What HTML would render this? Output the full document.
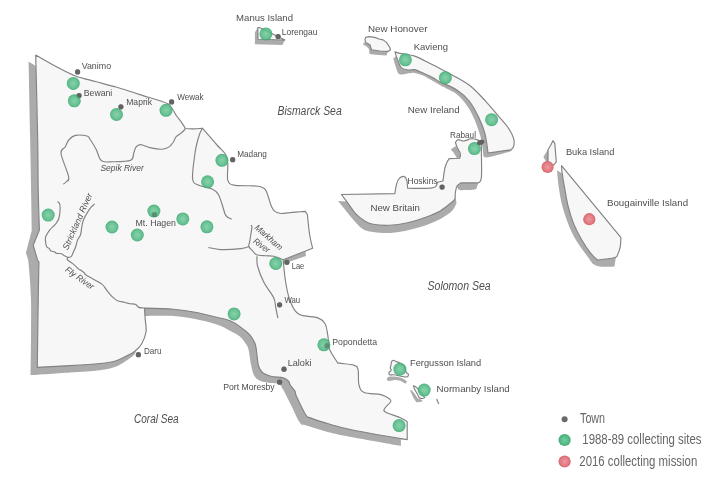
<!DOCTYPE html>
<html><head><meta charset="utf-8"><style>
html,body{margin:0;padding:0;background:#fff;width:716px;height:484px;overflow:hidden}
svg{display:block;will-change:transform}
text{font-family:"Liberation Sans",sans-serif}
</style></head><body>
<svg width="716" height="484" viewBox="0 0 716 484">
<defs><radialGradient id="g" cx="50%" cy="50%" r="50%"><stop offset="0" stop-color="#78cda1"/><stop offset="0.7" stop-color="#55ba86"/><stop offset="1" stop-color="#3aa970"/></radialGradient><radialGradient id="r" cx="50%" cy="50%" r="50%"><stop offset="0" stop-color="#ec9aa0"/><stop offset="0.75" stop-color="#e07780"/><stop offset="1" stop-color="#d6636d"/></radialGradient></defs>
<path d="M35.7,66.0 C35.7,66.0 28.6,61.5 28.6,61.5 C28.6,61.5 29.6,111.9 30.2,140.0 C30.8,168.1 31.9,230.0 31.9,230.0 C31.9,230.0 26.0,252.9 26.0,252.9 C26.0,252.9 28.2,260.0 28.2,260.0 C28.2,260.0 30.6,280.8 31.0,300.0 C31.4,319.2 30.6,375.2 30.6,375.2 C30.6,375.2 58.4,373.3 70.0,372.5 C81.6,371.7 92.4,371.2 100.0,370.2 C107.6,369.2 111.2,368.2 115.5,366.7 C119.8,365.2 122.7,363.0 125.8,361.0 C128.9,359.0 132.4,356.5 134.1,354.8 C135.8,353.1 136.0,351.0 136.0,351.0 C136.0,351.0 139.6,347.7 141.3,344.5 C143.0,341.3 145.3,336.3 146.0,332.0 C146.7,327.7 145.4,321.6 145.2,318.9 C144.9,316.2 144.5,316.0 144.5,316.0 C144.5,316.0 165.0,315.5 173.4,316.0 C181.8,316.5 187.9,317.6 195.1,319.0 C202.3,320.4 211.0,322.6 216.8,324.5 C222.6,326.4 226.2,328.7 230.0,330.7 C233.8,332.7 237.2,334.1 239.9,336.5 C242.7,338.9 245.1,342.6 246.5,344.8 C247.9,347.1 247.8,346.6 248.6,350.0 C249.4,353.4 250.2,361.2 251.2,365.5 C252.1,369.8 252.8,373.2 254.3,375.8 C255.9,378.4 257.8,379.8 260.5,381.0 C263.2,382.2 267.7,382.6 270.8,383.1 C273.9,383.6 277.2,383.2 279.1,384.1 C281.0,385.0 281.4,387.0 282.2,388.2 C283.0,389.4 282.6,388.3 284.1,391.2 C285.6,394.1 288.8,400.5 291.4,405.7 C294.0,410.9 297.2,418.9 299.6,422.2 C302.0,425.5 300.7,423.6 305.8,425.3 C310.9,427.0 322.0,430.5 330.0,432.5 C338.0,434.5 342.0,435.3 353.8,437.5 C365.6,439.7 400.9,445.9 400.9,445.9 C400.9,445.9 400.9,439.6 400.9,439.6 C400.9,439.6 407.2,439.6 407.2,439.6 C407.2,439.6 390.0,425.0 390.0,425.0 C390.0,425.0 340.0,400.0 340.0,400.0 C340.0,400.0 300.0,360.0 300.0,360.0 C300.0,360.0 250.0,300.0 250.0,300.0 C250.0,300.0 100.0,200.0 100.0,200.0 C100.0,200.0 35.7,66.0 35.7,66.0 Z" fill="#ababab"/>
<path d="M345.5,201.4 C345.5,201.4 338.2,201.0 338.2,201.0 C338.2,201.0 342.0,205.8 344.4,208.8 C346.8,211.8 349.8,215.8 352.7,219.1 C355.6,222.4 358.6,226.2 362.0,228.4 C365.4,230.6 368.1,231.3 373.3,232.0 C378.5,232.7 385.8,233.5 393.0,232.8 C400.2,232.2 409.4,230.1 416.7,228.1 C424.0,226.1 430.9,223.5 436.7,220.8 C442.4,218.1 447.9,214.8 451.2,211.8 C454.5,208.8 456.6,202.7 456.6,202.7 C456.6,202.7 455.0,196.0 455.0,196.0 C455.0,196.0 455.4,197.9 454.8,199.0 C454.2,200.1 453.6,200.7 451.2,202.7 C448.8,204.7 444.5,208.5 440.3,210.9 C436.1,213.3 431.2,215.2 425.8,217.2 C420.4,219.2 413.7,221.4 407.6,222.7 C401.6,224.0 395.2,224.9 389.5,225.2 C383.8,225.5 377.4,225.0 373.3,224.3 C369.2,223.6 367.9,222.9 365.0,221.2 C362.1,219.5 358.7,217.0 355.8,213.9 C352.9,210.8 349.2,204.7 347.5,202.6 C345.8,200.5 345.5,201.4 345.5,201.4 Z" fill="#ababab"/>
<path d="M450.8,149.5 C450.8,149.5 455.5,146.3 455.5,146.3 C455.5,146.3 458.1,149.1 459.0,151.0 C459.9,152.9 460.6,158.0 460.6,158.0 C460.6,158.0 457.0,158.5 457.0,158.5 C457.0,158.5 454.5,154.0 453.5,152.5 C452.5,151.0 450.8,149.5 450.8,149.5 Z" fill="#ababab"/>
<path d="M444.8,166.0 C444.8,166.0 442.4,182.1 442.4,182.1 C442.4,182.1 443.0,181.0 443.0,181.0 C443.0,181.0 444.8,168.5 444.8,168.5 C444.8,168.5 444.8,166.0 444.8,166.0 Z" fill="#ababab"/>
<path d="M461.0,182.8 C461.0,182.8 478.3,182.8 478.3,182.8 C478.3,182.8 477.7,185.4 477.1,186.5 C476.5,187.6 477.1,189.0 474.6,189.6 C472.1,190.2 464.9,190.2 462.2,190.2 C459.5,190.2 459.3,190.3 458.5,189.6 C457.7,188.9 457.2,185.9 457.2,185.9 C457.2,185.9 461.0,182.8 461.0,182.8 Z" fill="#ababab"/>
<path d="M396.2,55.9 C396.2,55.9 393.3,58.4 393.3,58.4 C393.3,58.4 394.7,63.5 395.5,66.0 C396.3,68.5 397.2,71.9 398.3,73.3 C399.4,74.7 400.6,74.5 402.4,74.5 C404.2,74.5 406.9,73.6 409.0,73.3 C411.1,73.0 412.5,72.5 414.8,72.9 C417.1,73.3 420.1,74.2 423.0,75.5 C425.9,76.8 429.2,78.9 432.1,80.6 C435.1,82.3 436.6,83.3 440.7,85.6 C444.8,87.9 452.5,91.0 457.0,94.5 C461.5,98.0 464.6,102.3 467.5,106.5 C470.4,110.7 472.4,114.6 474.7,119.9 C476.9,125.2 479.5,132.3 481.0,138.5 C482.5,144.7 483.5,156.8 483.5,156.8 C483.5,156.8 485.0,158.0 489.9,157.0 C494.8,156.0 512.6,150.8 512.6,150.8 C512.6,150.8 510.5,149.8 510.5,149.8 C510.5,149.8 488.0,153.0 488.0,153.0 C488.0,153.0 486.5,139.9 485.0,134.0 C483.5,128.1 481.5,123.3 478.9,117.8 C476.3,112.3 472.9,105.6 469.2,101.0 C465.5,96.4 461.6,93.1 456.8,90.0 C452.1,86.9 444.8,84.3 440.7,82.2 C436.6,80.1 435.7,79.1 432.1,77.3 C428.5,75.5 421.9,72.6 418.9,71.3 C415.9,70.0 415.8,69.8 414.0,69.6 C412.2,69.4 410.3,70.3 408.2,70.0 C406.1,69.7 403.1,69.0 401.6,67.9 C400.1,66.8 400.0,65.4 399.1,63.4 C398.2,61.4 396.2,55.9 396.2,55.9 Z" fill="#ababab"/>
<path d="M557.0,170.2 C557.0,170.2 557.9,181.4 558.8,187.3 C559.7,193.2 560.5,199.1 562.2,205.5 C563.9,211.9 566.5,219.8 569.0,225.9 C571.5,232.0 573.8,236.5 577.0,241.8 C580.2,247.1 585.6,253.9 588.4,257.7 C591.2,261.5 591.7,263.0 594.0,264.5 C596.3,266.0 598.6,266.5 602.0,266.8 C605.4,267.1 614.6,266.4 614.6,266.4 C614.6,266.4 615.9,257.1 615.9,257.1 C615.9,257.1 617.1,257.3 614.0,257.8 C610.9,258.3 597.5,260.0 597.5,260.0 C597.5,260.0 593.3,256.6 590.6,253.2 C587.9,249.8 584.3,244.4 581.5,239.5 C578.7,234.6 575.9,229.3 573.6,223.6 C571.3,217.9 569.4,211.6 567.9,205.5 C566.4,199.4 565.5,192.6 564.5,187.3 C563.5,182.0 562.2,173.6 562.2,173.6 C562.2,173.6 557.0,170.2 557.0,170.2 Z" fill="#ababab"/>
<path d="M387.0,378.8 C387.0,378.8 387.5,377.1 389.0,376.8 C390.5,376.5 393.9,376.5 396.2,376.8 C398.5,377.1 401.0,377.7 402.8,378.5 C404.6,379.3 406.8,381.4 406.8,381.4 C406.8,381.4 406.4,383.4 405.5,383.4 C404.6,383.4 403.1,381.9 401.5,381.4 C399.9,380.8 398.0,380.2 396.2,380.1 C394.4,380.0 392.3,380.7 390.9,380.8 C389.5,380.9 388.2,381.1 387.6,380.8 C387.0,380.5 387.0,378.8 387.0,378.8 Z" fill="#ababab"/>
<path d="M410.0,390.4 C410.0,390.4 411.0,389.8 411.8,390.4 C412.6,391.0 413.9,392.8 414.9,394.1 C415.9,395.5 416.9,397.6 418.0,398.5 C419.1,399.4 421.0,399.2 421.7,399.7 C422.4,400.2 422.4,401.6 422.4,401.6 C422.4,401.6 416.8,402.5 416.8,402.5 C416.8,402.5 415.4,401.1 414.3,399.1 C413.2,397.1 410.0,390.4 410.0,390.4 Z" fill="#ababab"/>
<path d="M283.2,259.8 L305.5,251.5 L306.0,256.0 L289.8,261.6 L285.0,263.0 Z" fill="#ababab"/>
<path d="M365.7,42.4 L363.7,42.4 L363.3,44.8 L366.6,46.5 L369.0,49.0 L369.5,53.9 L375.7,54.8 L386.4,55.6 L388.1,51.4 L379.8,51.0 L371.5,49.8 L369.9,44.8 Z" fill="#ababab"/>
<path d="M257.8,27.5 L254.9,32.4 L254.9,44.3 L282.4,44.9 L285.0,40.0 L258.0,39.3 Z" fill="#ababab"/>
<path d="M548.1,149.5 L543.4,156.7 L545.5,160.8 L546.0,166.0 L548.0,163.0 Z" fill="#ababab"/>
<path d="M35.7,55.0 C35.7,55.0 49.4,63.0 56.0,66.5 C62.6,70.0 68.9,73.5 75.5,76.0 C82.1,78.5 88.8,79.7 95.5,81.5 C102.2,83.3 109.4,85.1 116.0,87.0 C122.6,88.9 130.5,91.6 135.0,93.0 C139.5,94.4 138.8,94.3 143.0,95.6 C147.2,96.9 155.8,99.4 160.0,100.8 C164.2,102.2 166.2,102.7 168.3,104.1 C170.4,105.5 171.0,107.1 172.4,109.0 C173.8,110.9 175.0,113.5 176.5,115.7 C178.0,117.9 180.0,120.2 181.5,122.3 C183.0,124.4 185.4,128.5 185.4,128.5 C185.4,128.5 190.2,129.0 193.0,128.9 C195.8,128.8 202.4,128.2 202.4,128.2 C202.4,128.2 213.1,140.6 217.0,145.0 C220.9,149.4 224.0,151.5 225.8,154.8 C227.6,158.1 227.5,160.4 227.8,164.6 C228.1,168.8 226.8,176.8 227.8,180.2 C228.8,183.6 229.9,184.2 233.6,185.1 C237.3,186.0 245.9,185.6 250.0,185.8 C254.1,186.0 256.0,185.8 258.3,186.2 C260.6,186.6 262.6,187.4 264.0,188.3 C265.4,189.2 265.7,189.8 266.5,191.6 C267.3,193.4 268.2,196.5 269.0,199.0 C269.8,201.5 270.5,204.3 271.5,206.4 C272.5,208.5 273.2,210.2 274.8,211.4 C276.4,212.6 278.9,213.3 281.4,213.5 C283.9,213.7 286.0,212.9 290.0,212.6 C294.0,212.2 305.3,211.4 305.3,211.4 C305.3,211.4 307.4,214.5 307.4,214.5 C307.4,214.5 308.8,229.4 309.7,235.0 C310.6,240.6 312.6,248.2 312.6,248.2 C312.6,248.2 283.2,259.8 283.2,259.8 C283.2,259.8 284.6,276.4 285.9,283.5 C287.1,290.6 288.5,297.4 290.7,302.5 C292.9,307.6 294.4,311.7 299.0,314.3 C303.6,316.9 313.6,316.3 318.0,317.9 C322.4,319.5 323.5,321.2 325.1,323.8 C326.7,326.4 326.9,330.1 327.5,333.3 C328.1,336.5 328.3,340.0 328.7,342.8 C329.1,345.6 328.5,346.8 329.9,350.0 C331.3,353.2 335.5,359.6 337.0,361.8 C338.5,364.0 336.3,362.5 339.1,363.1 C341.9,363.7 350.7,364.1 353.8,365.2 C356.9,366.2 357.1,366.1 358.0,369.4 C358.9,372.7 357.9,381.2 359.0,385.1 C360.1,389.0 360.6,390.9 364.3,392.5 C368.0,394.1 376.8,393.6 381.0,394.6 C385.2,395.7 387.8,397.6 389.4,398.8 C391.0,400.0 391.4,400.2 390.5,401.9 C389.6,403.6 384.9,407.4 384.2,409.2 C383.5,410.9 383.7,411.0 386.3,412.4 C388.9,413.8 396.4,416.0 399.9,417.6 C403.4,419.2 407.2,421.8 407.2,421.8 C407.2,421.8 407.2,439.6 407.2,439.6 C407.2,439.6 366.7,432.8 353.8,430.2 C340.9,427.6 337.1,426.3 330.0,424.3 C322.9,422.3 315.0,419.7 311.0,418.1 C307.0,416.6 308.2,418.6 305.8,415.0 C303.4,411.4 298.3,400.3 296.5,396.4 C294.7,392.4 296.0,393.2 295.0,391.3 C294.0,389.4 291.4,386.7 290.3,385.0 C289.2,383.3 289.6,382.2 288.4,381.0 C287.2,379.8 286.1,378.7 283.2,377.9 C280.3,377.1 274.2,377.2 270.8,376.3 C267.4,375.4 264.7,374.5 262.6,372.7 C260.5,370.9 259.4,369.3 258.4,365.5 C257.4,361.7 257.0,353.7 256.4,350.0 C255.8,346.3 255.9,345.6 254.8,343.1 C253.7,340.6 252.3,337.6 249.8,334.8 C247.3,332.1 243.2,328.9 239.9,326.6 C236.6,324.3 233.8,322.4 230.0,320.8 C226.2,319.2 222.6,318.7 216.8,317.3 C211.0,315.9 202.3,313.5 195.1,312.2 C187.9,310.9 181.8,310.0 173.4,309.3 C165.0,308.6 144.5,308.1 144.5,308.1 C144.5,308.1 144.9,314.9 145.2,318.9 C145.4,322.9 146.7,327.7 146.0,332.0 C145.3,336.3 143.3,341.2 141.3,344.5 C139.3,347.8 136.5,349.8 134.1,351.7 C131.7,353.6 130.0,354.2 126.9,355.8 C123.8,357.4 120.0,359.7 115.5,361.0 C111.0,362.3 107.6,362.7 100.0,363.5 C92.4,364.3 80.5,365.0 70.0,365.6 C59.5,366.2 37.3,367.4 37.3,367.4 C37.3,367.4 37.9,317.6 38.2,300.0 C38.5,282.4 38.9,262.0 38.9,262.0 C38.9,262.0 37.5,260.0 37.5,260.0 C37.5,260.0 33.2,245.2 33.2,245.2 C33.2,245.2 39.4,230.0 39.4,230.0 C39.4,230.0 38.5,205.0 38.2,190.0 C37.9,175.0 38.1,162.5 37.7,140.0 C37.3,117.5 35.7,55.0 35.7,55.0 Z" fill="#f7f7f7" stroke="#828282" stroke-width="1.15" stroke-linejoin="round"/>
<path d="M341.4,194.5 C341.4,194.5 394.9,193.6 394.9,193.6 C394.9,193.6 395.9,186.2 396.7,183.6 C397.5,181.0 398.3,179.4 399.5,178.2 C400.7,177.0 402.8,176.1 404.0,176.4 C405.2,176.7 406.1,178.0 406.7,180.0 C407.3,182.0 407.6,188.2 407.6,188.2 C407.6,188.2 417.7,188.5 422.1,188.4 C426.5,188.3 431.4,188.5 434.0,187.5 C436.6,186.5 437.4,182.3 437.4,182.3 C437.4,182.3 443.0,181.0 443.0,181.0 C443.0,181.0 444.2,171.5 444.8,168.5 C445.4,165.5 446.0,164.6 446.7,162.9 C447.4,161.2 449.2,158.6 449.2,158.6 C449.2,158.6 459.7,158.3 459.7,158.3 C459.7,158.3 460.7,155.4 460.3,153.6 C459.9,151.8 458.0,149.2 457.2,147.4 C456.4,145.6 455.4,142.5 455.4,142.5 C455.4,142.5 456.7,139.8 458.1,139.6 C459.5,139.3 461.7,141.1 463.9,141.0 C466.1,140.9 468.9,139.0 471.1,138.8 C473.3,138.6 475.2,139.0 476.9,139.6 C478.6,140.2 481.3,142.5 481.3,142.5 C481.3,142.5 481.4,146.6 481.4,152.4 C481.4,158.2 481.9,172.1 481.4,177.2 C480.9,182.3 478.3,182.8 478.3,182.8 C478.3,182.8 461.0,182.8 461.0,182.8 C461.0,182.8 458.1,184.4 457.2,185.9 C456.3,187.4 455.8,189.9 455.4,192.1 C455.0,194.3 455.5,197.2 454.8,199.0 C454.1,200.8 453.6,200.7 451.2,202.7 C448.8,204.7 444.5,208.5 440.3,210.9 C436.1,213.3 431.2,215.2 425.8,217.2 C420.4,219.2 413.7,221.4 407.6,222.7 C401.6,224.0 395.2,224.9 389.5,225.2 C383.8,225.5 377.4,225.0 373.3,224.3 C369.2,223.6 367.9,222.9 365.0,221.2 C362.1,219.5 358.7,217.0 355.8,213.9 C352.9,210.8 349.9,205.8 347.5,202.6 C345.1,199.4 341.4,194.5 341.4,194.5 Z" fill="#f7f7f7" stroke="#828282" stroke-width="1.15" stroke-linejoin="round"/>
<path d="M395.0,51.8 C395.0,51.8 396.7,52.7 399.9,53.4 C403.1,54.1 409.1,54.2 414.0,55.9 C418.9,57.5 424.5,60.8 429.6,63.3 C434.7,65.8 440.0,68.6 444.5,71.0 C449.0,73.4 452.3,74.9 456.8,77.5 C461.3,80.1 466.5,82.8 471.3,86.8 C476.1,90.8 481.2,96.5 485.7,101.3 C490.2,106.1 494.3,111.2 498.1,115.7 C501.9,120.2 505.8,124.3 508.4,128.1 C511.0,131.9 512.7,135.3 513.6,138.4 C514.5,141.5 514.1,144.8 513.6,146.7 C513.1,148.6 510.5,149.8 510.5,149.8 C510.5,149.8 488.0,153.0 488.0,153.0 C488.0,153.0 486.5,139.9 485.0,134.0 C483.5,128.1 481.5,123.3 478.9,117.8 C476.3,112.3 472.9,105.6 469.2,101.0 C465.5,96.4 461.6,93.1 456.8,90.0 C452.1,86.9 444.8,84.3 440.7,82.2 C436.6,80.1 435.7,79.1 432.1,77.3 C428.5,75.5 421.9,72.6 418.9,71.3 C415.9,70.0 415.8,69.8 414.0,69.6 C412.2,69.4 410.3,70.3 408.2,70.0 C406.1,69.7 403.1,69.0 401.6,67.9 C400.1,66.8 400.0,65.4 399.1,63.4 C398.2,61.4 396.9,57.8 396.2,55.9 C395.5,54.0 395.0,51.8 395.0,51.8 Z" fill="#f7f7f7" stroke="#828282" stroke-width="1.15" stroke-linejoin="round"/>
<path d="M561.5,165.7 C561.5,165.7 620.8,237.3 620.8,237.3 C620.8,237.3 620.8,244.1 620.2,247.2 C619.6,250.3 617.1,255.9 617.1,255.9 C617.1,255.9 617.3,257.1 614.0,257.8 C610.7,258.5 597.5,260.0 597.5,260.0 C597.5,260.0 593.3,256.6 590.6,253.2 C587.9,249.8 584.3,244.4 581.5,239.5 C578.7,234.6 575.9,229.3 573.6,223.6 C571.3,217.9 569.4,211.6 567.9,205.5 C566.4,199.4 565.5,192.6 564.5,187.3 C563.5,182.0 562.7,177.2 562.2,173.6 C561.7,170.0 561.5,165.7 561.5,165.7 Z" fill="#f7f7f7" stroke="#828282" stroke-width="1.15" stroke-linejoin="round"/>
<path d="M391.6,361.6 C392.0,360.8 392.8,360.3 393.6,360.3 C394.4,360.3 395.1,361.2 396.2,361.6 C397.3,362.1 398.7,362.3 400.0,363.0 C401.3,363.7 403.0,364.5 404.0,366.0 C405.0,367.5 405.5,370.8 406.2,372.2 C406.9,373.6 408.2,373.4 408.4,374.2 C408.6,375.0 408.1,376.4 407.4,376.8 C406.7,377.2 405.3,376.9 404.2,376.8 C403.1,376.7 402.5,376.5 400.8,376.2 C399.1,375.9 395.6,375.0 394.2,374.8 C392.8,374.6 393.1,374.8 392.3,374.8 C391.5,374.8 390.2,375.1 389.6,374.8 C389.0,374.5 388.6,373.6 388.9,372.8 C389.2,372.0 391.1,371.0 391.3,370.2 C391.5,369.4 390.4,369.1 390.3,368.2 C390.2,367.3 390.8,366.1 391.0,365.0 C391.2,363.9 391.2,362.4 391.6,361.6 Z" fill="#f7f7f7" stroke="#828282" stroke-width="1.15" stroke-linejoin="round"/>
<path d="M413.4,385.8 C413.4,385.8 415.0,386.3 415.9,387.0 C416.8,387.7 417.5,388.2 419.0,390.0 C420.5,391.8 424.8,397.5 424.8,397.5 C424.8,397.5 423.3,398.4 422.4,398.5 C421.5,398.6 420.1,398.5 419.3,397.8 C418.5,397.1 418.1,395.4 417.4,394.1 C416.7,392.8 415.6,391.2 414.9,389.8 C414.2,388.4 413.4,385.8 413.4,385.8 Z" fill="#f7f7f7" stroke="#828282" stroke-width="1.15" stroke-linejoin="round"/>
<path d="M365.7,37.4 L369.0,36.6 L374.8,37.4 L379.0,39.0 L383.1,39.9 L386.4,42.4 L389.7,47.3 L390.5,49.8 L388.1,51.4 L379.8,51.0 L371.5,49.8 L369.9,44.8 L365.7,42.4 L364.9,39.9 Z" fill="#f7f7f7" stroke="#828282" stroke-width="1.15" stroke-linejoin="round"/>
<path d="M257.8,27.5 L260.0,27.8 L285.0,40.0 L258.0,39.3 Z" fill="#f7f7f7" stroke="#828282" stroke-width="1.15" stroke-linejoin="round"/>
<path d="M552.9,140.7 L554.8,143.3 L555.8,155.7 L556.3,161.9 L553.8,165.0 L548.0,163.0 L548.1,149.5 L550.7,145.3 Z" fill="#f7f7f7" stroke="#828282" stroke-width="1.15" stroke-linejoin="round"/>
<path d="M63.2,184.1 C63.7,183.8 65.1,183.2 66.0,182.0 C66.9,180.8 69.5,181.8 68.7,177.0 C67.9,172.2 61.6,158.5 61.0,153.5 C60.4,148.5 64.0,149.1 65.3,146.8 C66.6,144.6 67.0,141.9 68.7,140.0 C70.4,138.1 72.4,136.1 75.4,135.4 C78.5,134.7 84.6,135.4 87.0,136.0 C89.4,136.6 88.5,137.0 90.0,139.2 C91.5,141.4 94.2,145.6 96.1,149.2 C98.0,152.8 98.7,158.6 101.5,160.7 C104.3,162.8 108.1,161.9 113.0,161.8 C117.9,161.7 127.2,161.7 130.7,160.2 C134.2,158.7 132.9,155.2 133.8,153.0 C134.7,150.8 134.9,148.3 136.1,146.9 C137.2,145.5 138.4,144.5 140.7,144.6 C143.0,144.7 146.3,146.8 149.9,147.6 C153.5,148.4 159.0,149.3 162.2,149.2 C165.4,149.1 167.2,148.2 169.1,146.9 C171.0,145.6 172.5,143.2 173.7,141.5 C174.8,139.8 174.6,138.4 176.0,136.9 C177.4,135.4 180.6,133.7 182.2,132.3 C183.8,130.9 184.9,129.1 185.4,128.5" fill="none" stroke="#828282" stroke-width="1.15" stroke-linejoin="round"/>
<path d="M202.4,128.2 C201.9,129.1 200.7,131.0 199.7,133.8 C198.7,136.6 197.4,141.2 196.5,145.0 C195.6,148.8 195.2,151.0 194.5,156.7 C193.8,162.4 191.9,174.5 192.6,179.2 C193.2,183.9 195.2,183.5 198.4,185.1 C201.7,186.7 208.8,187.5 212.1,189.0 C215.4,190.5 216.4,191.5 218.0,193.9 C219.6,196.3 220.6,200.1 221.9,203.7 C223.2,207.3 224.2,212.8 225.8,215.4 C227.4,218.0 230.7,218.7 231.7,219.3" fill="none" stroke="#828282" stroke-width="1.15" stroke-linejoin="round"/>
<path d="M57.4,201.5 C57.8,202.1 59.6,202.1 59.9,204.8 C60.2,207.6 59.8,214.7 59.0,218.0 C58.2,221.3 56.5,222.7 55.0,224.6 C53.5,226.5 51.5,227.7 50.0,229.6 C48.5,231.5 46.8,234.3 46.0,236.0 C45.2,237.7 45.3,238.2 45.4,240.0 C45.5,241.8 45.8,245.1 46.5,246.5 C47.2,247.9 48.7,248.0 49.4,248.7 C50.1,249.4 50.0,250.4 50.9,250.9 C51.8,251.4 53.5,251.5 54.5,251.9 C55.5,252.3 55.4,253.1 56.6,253.4 C57.8,253.7 60.5,253.3 61.7,253.7 C62.9,254.1 62.9,255.0 63.9,255.6 C64.9,256.2 67.0,256.8 67.5,257.4 C68.0,258.0 66.9,258.6 67.1,259.2 C67.3,259.8 67.8,260.1 68.9,261.0 C70.1,261.9 72.4,263.3 74.0,264.6 C75.6,265.9 77.2,267.9 78.4,268.9 C79.6,269.9 80.1,269.7 81.2,270.4 C82.3,271.1 84.1,272.5 84.9,273.3 C85.7,274.1 83.2,273.3 86.0,275.1 C88.8,276.9 98.1,281.4 101.5,283.9 C104.9,286.4 104.9,288.0 106.6,290.1 C108.3,292.2 110.1,294.6 111.8,296.3 C113.5,298.0 114.8,299.4 117.0,300.4 C119.2,301.4 122.8,301.9 125.0,302.5 C127.2,303.1 128.2,303.4 130.0,303.7 C131.8,304.0 134.4,303.9 135.8,304.5 C137.2,305.1 137.2,306.8 138.7,307.4 C140.1,308.0 143.5,308.0 144.5,308.1" fill="none" stroke="#828282" stroke-width="1.15" stroke-linejoin="round"/>
<path d="M94.6,204.0 C93.8,204.8 91.6,206.0 89.7,208.9 C87.8,211.8 84.5,217.0 83.0,221.3 C81.5,225.6 81.5,231.4 80.6,234.5 C79.7,237.6 78.4,237.9 77.6,240.0 C76.8,242.1 76.2,245.1 75.5,247.2 C74.8,249.2 74.0,250.7 73.3,252.3 C72.6,253.9 72.1,255.8 71.1,256.6 C70.1,257.5 68.1,257.3 67.5,257.4" fill="none" stroke="#828282" stroke-width="1.15" stroke-linejoin="round"/>
<path d="M250.8,224.8 C251.0,225.2 252.1,224.7 251.9,227.4 C251.7,230.1 250.3,237.6 249.8,240.8 C249.3,244.0 248.4,244.9 248.8,246.5 C249.2,248.1 251.1,249.2 252.4,250.6 C253.7,252.0 254.3,253.9 256.5,254.8 C258.7,255.7 262.9,255.6 265.8,255.8 C268.7,256.1 271.1,255.6 274.0,256.3 C276.9,257.0 281.7,259.2 283.2,259.8" fill="none" stroke="#828282" stroke-width="1.15" stroke-linejoin="round"/>
<path d="M208.3,247.5 C210.4,247.8 215.2,249.4 220.6,249.6 C226.0,249.8 236.3,249.1 241.0,248.6 C245.7,248.1 247.5,246.8 248.8,246.5" fill="none" stroke="#828282" stroke-width="1.15" stroke-linejoin="round"/>
<path d="M257.0,256.3 C257.1,257.9 256.3,261.6 257.5,266.0 C258.7,270.4 261.3,277.3 264.0,282.6 C266.7,287.9 271.7,293.5 273.6,297.6 C275.6,301.7 275.0,304.0 275.7,307.4 C276.4,310.8 277.5,316.4 277.9,318.2" fill="none" stroke="#828282" stroke-width="1.15" stroke-linejoin="round"/>
<path d="M436.6,399.1 L438.8,404" stroke="#828282" stroke-width="1.15"/>
<circle cx="77.6" cy="71.9" r="2.6" fill="#696969"/>
<circle cx="79.1" cy="95.6" r="2.6" fill="#696969"/>
<circle cx="120.9" cy="106.8" r="2.6" fill="#696969"/>
<circle cx="171.6" cy="101.9" r="2.6" fill="#696969"/>
<circle cx="232.7" cy="159.7" r="2.6" fill="#696969"/>
<circle cx="154.4" cy="214.4" r="2.6" fill="#696969"/>
<circle cx="286.9" cy="262.3" r="2.6" fill="#696969"/>
<circle cx="279.6" cy="304.8" r="2.6" fill="#696969"/>
<circle cx="138.4" cy="354.7" r="2.6" fill="#696969"/>
<circle cx="284" cy="369.2" r="2.6" fill="#696969"/>
<circle cx="279.6" cy="382.2" r="2.6" fill="#696969"/>
<circle cx="326.8" cy="345.7" r="2.6" fill="#696969"/>
<circle cx="278.1" cy="36.5" r="2.6" fill="#696969"/>
<circle cx="442.1" cy="187.1" r="2.6" fill="#696969"/>
<circle cx="73.3" cy="83.4" r="6.5" fill="url(#g)" fill-opacity="0.88"/>
<circle cx="74.3" cy="100.8" r="6.5" fill="url(#g)" fill-opacity="0.88"/>
<circle cx="116.5" cy="114.5" r="6.5" fill="url(#g)" fill-opacity="0.88"/>
<circle cx="166" cy="110.3" r="6.5" fill="url(#g)" fill-opacity="0.88"/>
<circle cx="221.9" cy="160.3" r="6.5" fill="url(#g)" fill-opacity="0.88"/>
<circle cx="207.6" cy="181.8" r="6.5" fill="url(#g)" fill-opacity="0.88"/>
<circle cx="48.2" cy="215.1" r="6.5" fill="url(#g)" fill-opacity="0.88"/>
<circle cx="112" cy="227" r="6.5" fill="url(#g)" fill-opacity="0.88"/>
<circle cx="137.3" cy="235" r="6.5" fill="url(#g)" fill-opacity="0.88"/>
<circle cx="153.9" cy="211.1" r="6.5" fill="url(#g)" fill-opacity="0.88"/>
<circle cx="182.8" cy="218.9" r="6.5" fill="url(#g)" fill-opacity="0.88"/>
<circle cx="206.9" cy="226.8" r="6.5" fill="url(#g)" fill-opacity="0.88"/>
<circle cx="275.8" cy="263.5" r="6.5" fill="url(#g)" fill-opacity="0.88"/>
<circle cx="234.1" cy="313.9" r="6.5" fill="url(#g)" fill-opacity="0.88"/>
<circle cx="323.9" cy="344.8" r="6.5" fill="url(#g)" fill-opacity="0.88"/>
<circle cx="399.9" cy="369.2" r="6.5" fill="url(#g)" fill-opacity="0.88"/>
<circle cx="424.2" cy="390.1" r="6.5" fill="url(#g)" fill-opacity="0.88"/>
<circle cx="399.1" cy="425.6" r="6.5" fill="url(#g)" fill-opacity="0.88"/>
<circle cx="265.9" cy="33.9" r="6.5" fill="url(#g)" fill-opacity="0.88"/>
<circle cx="405.4" cy="59.8" r="6.5" fill="url(#g)" fill-opacity="0.88"/>
<circle cx="445.4" cy="77.7" r="6.5" fill="url(#g)" fill-opacity="0.88"/>
<circle cx="491.6" cy="119.7" r="6.5" fill="url(#g)" fill-opacity="0.88"/>
<circle cx="474.4" cy="148.6" r="6.5" fill="url(#g)" fill-opacity="0.88"/>
<circle cx="77.6" cy="71.9" r="2.6" fill="#5a5a5a" fill-opacity="0.4"/>
<circle cx="79.1" cy="95.6" r="2.6" fill="#5a5a5a" fill-opacity="0.4"/>
<circle cx="120.9" cy="106.8" r="2.6" fill="#5a5a5a" fill-opacity="0.4"/>
<circle cx="171.6" cy="101.9" r="2.6" fill="#5a5a5a" fill-opacity="0.4"/>
<circle cx="232.7" cy="159.7" r="2.6" fill="#5a5a5a" fill-opacity="0.4"/>
<circle cx="154.4" cy="214.4" r="2.6" fill="#5a5a5a" fill-opacity="0.4"/>
<circle cx="286.9" cy="262.3" r="2.6" fill="#5a5a5a" fill-opacity="0.4"/>
<circle cx="279.6" cy="304.8" r="2.6" fill="#5a5a5a" fill-opacity="0.4"/>
<circle cx="138.4" cy="354.7" r="2.6" fill="#5a5a5a" fill-opacity="0.4"/>
<circle cx="284" cy="369.2" r="2.6" fill="#5a5a5a" fill-opacity="0.4"/>
<circle cx="279.6" cy="382.2" r="2.6" fill="#5a5a5a" fill-opacity="0.4"/>
<circle cx="326.8" cy="345.7" r="2.6" fill="#5a5a5a" fill-opacity="0.4"/>
<circle cx="278.1" cy="36.5" r="2.6" fill="#5a5a5a" fill-opacity="0.4"/>
<circle cx="442.1" cy="187.1" r="2.6" fill="#5a5a5a" fill-opacity="0.4"/>
<ellipse cx="480.7" cy="142.4" rx="3.8" ry="2.5" transform="rotate(-20 480.7 142.4)" fill="#626262"/>
<circle cx="547.6" cy="167" r="6.1" fill="url(#r)"/>
<circle cx="589.3" cy="219.2" r="6.1" fill="url(#r)"/>
<text x="236.1" y="20.7" font-size="9.8" fill="#4e4e4e" textLength="56.9" lengthAdjust="spacingAndGlyphs">Manus Island</text>
<text x="281.8" y="35" font-size="9.8" fill="#4e4e4e" textLength="35.6" lengthAdjust="spacingAndGlyphs">Lorengau</text>
<text x="368" y="31.8" font-size="9.8" fill="#4e4e4e" textLength="59.4" lengthAdjust="spacingAndGlyphs">New Honover</text>
<text x="413.7" y="49.9" font-size="9.8" fill="#4e4e4e" textLength="34.3" lengthAdjust="spacingAndGlyphs">Kavieng</text>
<text x="407.8" y="112.8" font-size="9.8" fill="#4e4e4e" textLength="51.9" lengthAdjust="spacingAndGlyphs">New Ireland</text>
<text x="450" y="138.4" font-size="9.8" fill="#4e4e4e" textLength="26.0" lengthAdjust="spacingAndGlyphs">Rabaul</text>
<text x="407.6" y="184.2" font-size="9.8" fill="#4e4e4e" textLength="30.0" lengthAdjust="spacingAndGlyphs">Hoskins</text>
<text x="370.4" y="211.4" font-size="9.8" fill="#4e4e4e" textLength="49.6" lengthAdjust="spacingAndGlyphs">New Britain</text>
<text x="565.9" y="154.7" font-size="9.8" fill="#4e4e4e" textLength="48.5" lengthAdjust="spacingAndGlyphs">Buka Island</text>
<text x="606.9" y="206.1" font-size="9.8" fill="#4e4e4e" textLength="81.2" lengthAdjust="spacingAndGlyphs">Bougainville Island</text>
<text x="81.7" y="69.3" font-size="9.8" fill="#4e4e4e" textLength="29.4" lengthAdjust="spacingAndGlyphs">Vanimo</text>
<text x="83.8" y="95.6" font-size="9.8" fill="#4e4e4e" textLength="28.4" lengthAdjust="spacingAndGlyphs">Bewani</text>
<text x="126.2" y="104.7" font-size="9.8" fill="#4e4e4e" textLength="25.8" lengthAdjust="spacingAndGlyphs">Maprik</text>
<text x="177.2" y="100.1" font-size="9.8" fill="#4e4e4e" textLength="26.5" lengthAdjust="spacingAndGlyphs">Wewak</text>
<text x="237.2" y="157.1" font-size="9.8" fill="#4e4e4e" textLength="29.7" lengthAdjust="spacingAndGlyphs">Madang</text>
<text x="135.5" y="225.6" font-size="9.8" fill="#4e4e4e" textLength="40.5" lengthAdjust="spacingAndGlyphs">Mt. Hagen</text>
<text x="291.7" y="268.5" font-size="9.8" fill="#4e4e4e" textLength="12.6" lengthAdjust="spacingAndGlyphs">Lae</text>
<text x="284.4" y="303.4" font-size="9.8" fill="#4e4e4e" textLength="15.8" lengthAdjust="spacingAndGlyphs">Wau</text>
<text x="144" y="354.4" font-size="9.8" fill="#4e4e4e" textLength="17.5" lengthAdjust="spacingAndGlyphs">Daru</text>
<text x="287.7" y="365.9" font-size="9.8" fill="#4e4e4e" textLength="23.8" lengthAdjust="spacingAndGlyphs">Laloki</text>
<text x="223.2" y="390.2" font-size="9.8" fill="#4e4e4e" textLength="51.5" lengthAdjust="spacingAndGlyphs">Port Moresby</text>
<text x="332.3" y="344.5" font-size="9.8" fill="#4e4e4e" textLength="44.7" lengthAdjust="spacingAndGlyphs">Popondetta</text>
<text x="410" y="366.3" font-size="9.8" fill="#4e4e4e" textLength="71.2" lengthAdjust="spacingAndGlyphs">Fergusson Island</text>
<text x="436.5" y="391.5" font-size="9.8" fill="#4e4e4e" textLength="73.2" lengthAdjust="spacingAndGlyphs">Normanby Island</text>
<text x="277.5" y="115.1" font-size="12" fill="#4e4e4e" font-style="italic" textLength="64.2" lengthAdjust="spacingAndGlyphs">Bismarck Sea</text>
<text x="427.5" y="290.3" font-size="12" fill="#4e4e4e" font-style="italic" textLength="63.2" lengthAdjust="spacingAndGlyphs">Solomon Sea</text>
<text x="134" y="423.2" font-size="12" fill="#4e4e4e" font-style="italic" textLength="44.7" lengthAdjust="spacingAndGlyphs">Coral Sea</text>
<text x="100.4" y="170.7" font-size="9.3" fill="#4e4e4e" font-style="italic" textLength="43.4" lengthAdjust="spacingAndGlyphs">Sepik River</text>
<text x="580" y="422.6" font-size="14" fill="#666" textLength="25.1" lengthAdjust="spacingAndGlyphs">Town</text>
<text x="582.3" y="444.2" font-size="14" fill="#666" textLength="119.2" lengthAdjust="spacingAndGlyphs">1988-89 collecting sites</text>
<text x="579.3" y="466.4" font-size="14" fill="#666" textLength="118.0" lengthAdjust="spacingAndGlyphs">2016 collecting mission</text>
<text font-size="8.8" fill="#4e4e4e" font-style="italic" transform="translate(67.8,250.5) rotate(-66)" textLength="61" lengthAdjust="spacingAndGlyphs">Strickland River</text>
<text font-size="8.8" fill="#4e4e4e" font-style="italic" transform="translate(64.5,271) rotate(35)" textLength="33" lengthAdjust="spacingAndGlyphs">Fly River</text>
<text font-size="8.8" fill="#4e4e4e" font-style="italic" transform="translate(254,228.4) rotate(41)" textLength="34" lengthAdjust="spacingAndGlyphs">Markham</text>
<text font-size="8.8" fill="#4e4e4e" font-style="italic" transform="translate(252.4,242.4) rotate(36)" textLength="18.5" lengthAdjust="spacingAndGlyphs">River</text>
<circle cx="564.6" cy="419.2" r="3" fill="#6a6a6a"/>
<circle cx="564.6" cy="440" r="6.1" fill="url(#g)"/>
<circle cx="564.6" cy="461.5" r="6.1" fill="url(#r)"/>
</svg></body></html>
